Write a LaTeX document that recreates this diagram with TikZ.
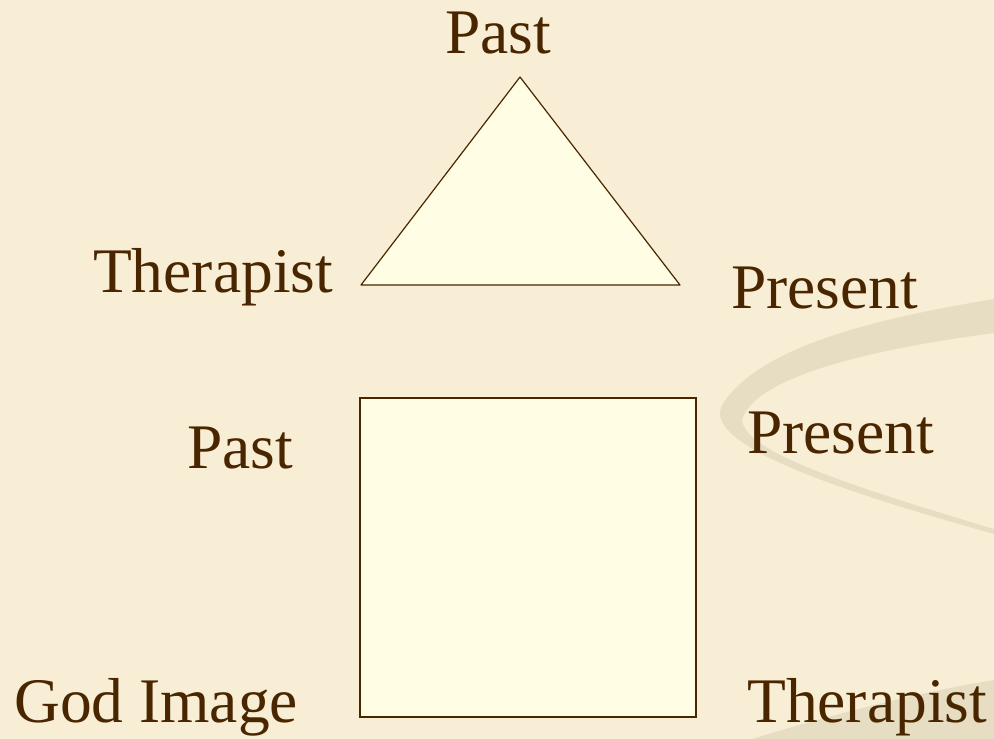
\documentclass[tikz,border=0pt]{standalone}
\usepackage{fontspec}
\setmainfont{Liberation Serif}
\usepackage{tikz}
\usetikzlibrary{positioning}
\usepackage{xcolor}
\definecolor{paper}{HTML}{F8EED5}
\definecolor{swoosh}{HTML}{E7DDC2}
\definecolor{ink}{HTML}{4A2600}
\definecolor{pale}{HTML}{FFFDE4}

\begin{document}
\begin{tikzpicture}[x=1pt,y=-1pt,
  lbl/.style={inner sep=0pt,anchor=base west,text=ink,font=\fontsize{63.5}{66}\selectfont},
  shp/.style={draw=ink,fill=pale,line width=1.2pt}]
% background
\fill[paper] (0,0) rectangle (994,739);
\useasboundingbox (0,0) rectangle (994,739);
% swooshes on the right
\fill[swoosh] (994,299) .. controls (880,318) and (760,345) .. (722,405)
  .. controls (705,440) and (800,480) .. (994,534)
  -- (994,529) .. controls (830,480) and (745,450) .. (742,420)
  .. controls (755,375) and (880,348) .. (994,333) -- cycle;
\fill[swoosh] (752,739) .. controls (830,715) and (920,692) .. (994,680)
  -- (994,739) -- cycle;
% triangle
\coordinate (apex) at (520,77);
\coordinate (tl) at (361,285);
\coordinate (tr) at (680,285);
\draw[shp,line join=round] (apex) -- (tl) -- (tr) -- cycle;
\node[lbl] (pasttop) at (445,53) {Past};
\node[lbl] (therapl) at (93,292) {Therapist};
\node[lbl] (presr) at (731,308) {Present};
% square
\coordinate (sq1) at (360,398);
\coordinate (sq2) at (696,717);
\draw[shp] (sq1) rectangle (sq2);
\node[lbl] (pastl) at (187,468) {Past};
\node[lbl] (presr2) at (747,453) {Present};
\node[lbl] (godimg) at (14,722) {God Image};
\node[lbl] (therapr) at (747,722) {Therapist};
\end{tikzpicture}
\end{document}
